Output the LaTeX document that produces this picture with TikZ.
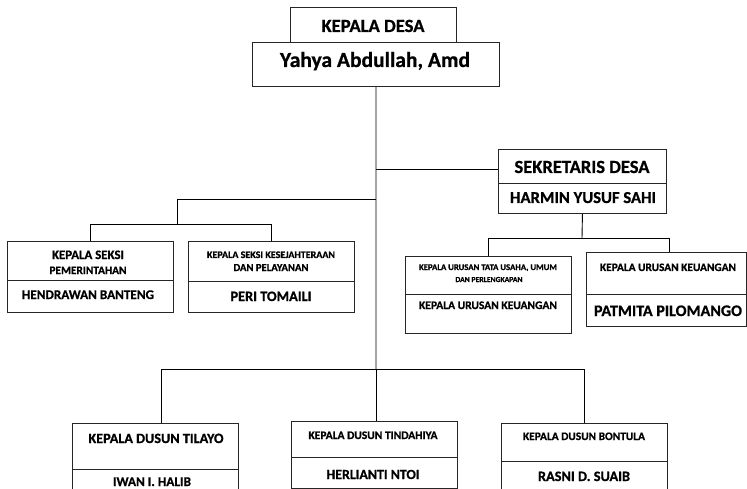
\documentclass[tikz,border=0pt]{standalone}
\usepackage{fontspec}
\usepackage{graphicx}
\setmainfont{Carlito}[BoldFont={Carlito Bold}, BoldFeatures={FakeBold=0.8}]
\newcommand{\fitw}[2]{\resizebox{#1pt}{!}{\bfseries #2}}
\tikzset{
  box/.style={draw=black!85, line width=0.9pt, inner sep=0pt, anchor=north west},
  lbl/.style={inner sep=0pt, anchor=base, text=black},
  link/.style={draw=black, line width=0.9pt},
}
\begin{document}
\begin{tikzpicture}[x=1pt,y=-1pt]
\clip (0,0) rectangle (747,489);
\fill[white] (0,0) rectangle (747,489);
% boxes
\node[box, minimum width=166pt, minimum height=35pt] (kdesa) at (290,7) {};
\node[box, minimum width=247pt, minimum height=44pt] (yahya) at (252,42) {};
\node[box, minimum width=168pt, minimum height=34pt] (sek) at (498,149) {};
\node[box, minimum width=168pt, minimum height=30pt] (harmin) at (498,183) {};
\node[box, minimum width=166pt, minimum height=39pt] (s1a) at (7,241) {};
\node[box, minimum width=166pt, minimum height=32pt] (s1b) at (7,280) {};
\node[box, minimum width=166pt, minimum height=40pt] (s2a) at (188,241) {};
\node[box, minimum width=166pt, minimum height=31pt] (s2b) at (188,281) {};
\node[box, minimum width=166pt, minimum height=38pt] (tua) at (405,256) {};
\node[box, minimum width=166pt, minimum height=39pt] (tub) at (405,294) {};
\node[box, minimum width=160pt, minimum height=42pt] (kua) at (586,252) {};
\node[box, minimum width=160pt, minimum height=32pt] (kub) at (586,294) {};
\node[box, minimum width=166pt, minimum height=46pt] (d1a) at (72,423) {};
\node[box, minimum width=166pt, minimum height=30pt] (d1b) at (72,469) {};
\node[box, minimum width=166pt, minimum height=36pt] (d2a) at (291,421) {};
\node[box, minimum width=166pt, minimum height=31pt] (d2b) at (291,457) {};
\node[box, minimum width=166pt, minimum height=38pt] (d3a) at (501,423) {};
\node[box, minimum width=166pt, minimum height=30pt] (d3b) at (501,461) {};
% connectors
\coordinate (jsek) at (376,169);
\coordinate (jseksi) at (376,199);
\coordinate (jdusun) at (376,369);
\draw[link] (yahya.south) -- (jdusun);
\draw[link] (jsek) -- (jsek -| sek.west);
\coordinate (bseksi) at (177,199);
\coordinate (bseksi2) at (177,224);
\draw[link] (jseksi) -- (bseksi) -- (bseksi2);
\coordinate (bs1) at (s1a.north |- bseksi2);
\coordinate (bs2) at (s2a.north |- bseksi2);
\draw[link] (bs1) -- (bs2);
\draw[link] (bs1) -- (s1a.north);
\draw[link] (bs2) -- (s2a.north);
\coordinate (bsek) at (582,238);
\draw[link] (harmin.south) -- (bsek);
\coordinate (bkuL) at (tua.north |- bsek);
\coordinate (bkuR) at (669,238);
\draw[link] (bkuL) -- (bkuR);
\draw[link] (bkuL) -- (tua.north);
\draw[link] (bkuR) -- (bkuR |- kua.north);
\coordinate (bd1) at (161,369);
\coordinate (bd3) at (d3a.north |- jdusun);
\draw[link] (bd1) -- (bd3);
\draw[link] (bd1) -- (bd1 |- d1a.north);
\draw[link] (jdusun) -- (jdusun |- d2a.north);
\draw[link] (bd3) -- (d3a.north);
% texts
\node[lbl] (t1) at (373,32) {\fitw{103}{KEPALA DESA}};
\node[lbl] (t2) at (375,67) {\fitw{190}{Yahya Abdullah, Amd}};
\node[lbl] (t3) at (582,173) {\fitw{135}{SEKRETARIS DESA}};
\node[lbl] (t4) at (583,203) {\fitw{146}{HARMIN YUSUF SAHI}};
\node[lbl] (t5) at (88,259) {\fitw{72}{KEPALA SEKSI}};
\node[lbl] (t6) at (88,274) {\fitw{77}{PEMERINTAHAN}};
\node[lbl] (t7) at (88,299) {\fitw{132}{HENDRAWAN BANTENG}};
\node[lbl] (t8) at (271,258) {\fitw{128}{KEPALA SEKSI KESEJAHTERAAN}};
\node[lbl] (t9) at (271,271) {\fitw{75}{DAN PELAYANAN}};
\node[lbl] (t10) at (271,301) {\fitw{81}{PERI TOMAILI}};
\node[lbl] (t11) at (488,270) {\fitw{138}{KEPALA URUSAN TATA USAHA, UMUM}};
\node[lbl] (t12) at (489,282) {\fitw{67}{DAN PERLENGKAPAN}};
\node[lbl] (t13) at (488,309) {\fitw{138}{KEPALA URUSAN KEUANGAN}};
\node[lbl] (t14) at (668,271) {\fitw{136}{KEPALA URUSAN KEUANGAN}};
\node[lbl] (t15) at (668,316) {\fitw{148}{PATMITA PILOMANGO}};
\node[lbl] (t16) at (156,443) {\fitw{135}{KEPALA DUSUN TILAYO}};
\node[lbl] (t17) at (152,486) {\fitw{78}{IWAN I. HALIB}};
\node[lbl] (t18) at (373,439) {\fitw{129}{KEPALA DUSUN TINDAHIYA}};
\node[lbl] (t19) at (373,479) {\fitw{93}{HERLIANTI NTOI}};
\node[lbl] (t20) at (584,440) {\fitw{122}{KEPALA DUSUN BONTULA}};
\node[lbl] (t21) at (584,481) {\fitw{92}{RASNI D. SUAIB}};
\end{tikzpicture}
\end{document}
